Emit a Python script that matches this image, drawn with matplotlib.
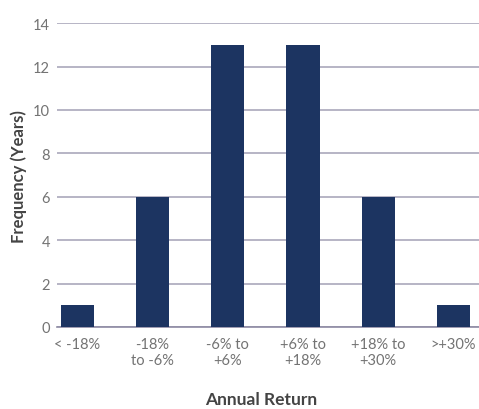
import numpy as np
import matplotlib
matplotlib.use('Agg')
import matplotlib.pyplot as plt

categories = ['< -18%', '-18%\nto -6%', '-6% to\n+6%', '+6% to\n+18%', '+18% to\n+30%', '>+30%']
years = [1, 6, 13, 13, 6, 1]
yticks = [0, 2, 4, 6, 8, 10, 12, 14]

plt.rcParams['font.family'] = ['Lato', 'DejaVu Sans']

fig = plt.figure(figsize=(4.79, 4.10), dpi=100)
ax = fig.add_axes([0.119, 0.2, 0.881, 0.741])

x = np.arange(len(categories))
ax.bar(x, years, width=0.44, color='#1c3461', zorder=3)

ax.set_ylim(0, 14)
ax.set_xlim(-0.27, 5.34)
ax.set_yticks(yticks)
ax.set_xticks(x)
ax.set_xticklabels(categories, fontsize=10.5, color='#737373', linespacing=1.2)
ax.set_yticklabels([str(t) for t in yticks], fontsize=10.5, color='#737373')
ax.grid(axis='y', color='#aaa8bb', linewidth=1.2, zorder=0)
ax.tick_params(axis='both', length=0)
ax.tick_params(axis='y', pad=5)
ax.tick_params(axis='x', pad=7)

for s in ['top', 'right', 'left']:
    ax.spines[s].set_visible(False)
ax.spines['bottom'].set_color('#8d8aa3')
ax.spines['bottom'].set_linewidth(1.2)

ax.set_ylabel('Frequency (Years)', fontsize=12, fontweight='bold', color='#444444')
ax.set_xlabel('Annual Return', fontsize=12.5, fontweight='bold', color='#444444')
ax.yaxis.set_label_coords(-0.071, 0.5)
ax.xaxis.set_label_coords(0.483, -0.212)

fig.savefig('out.png', dpi=100)
